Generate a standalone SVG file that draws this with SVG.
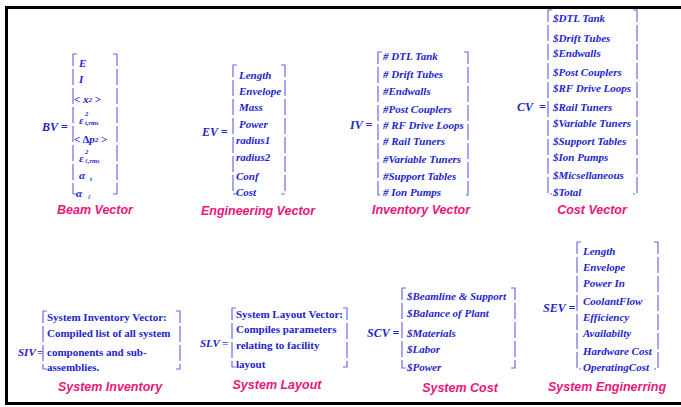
<svg xmlns="http://www.w3.org/2000/svg" width="681" height="407" viewBox="0 0 681 407">
<style>
.e{font-family:"Liberation Serif","Times New Roman",serif;font-weight:bold;font-style:italic;font-size:11px;fill:#2424cc;}
.u{font-family:"Liberation Serif","Times New Roman",serif;font-weight:bold;font-size:11px;fill:#2424cc;}
.n{font-family:"Liberation Serif","Times New Roman",serif;font-weight:bold;font-style:italic;font-size:12px;fill:#2424cc;}
.lb{font-family:"Liberation Sans",Arial,sans-serif;font-weight:bold;font-style:italic;font-size:12.5px;fill:#e8177d;text-anchor:middle;}
.br{fill:none;stroke:#6a6ae6;stroke-width:1.2;stroke-dasharray:16 3;}
.sm{font-family:"Liberation Serif","Times New Roman",serif;font-weight:bold;font-style:italic;font-size:6.5px;fill:#2424cc;}
</style>
<path d="M681,7.5 L6.5,7.5 L6.5,403.5 L681,403.5" fill="none" stroke="#000" stroke-width="3"/>

<g id="beam-vector">
<text x="42" y="131" class="n">BV =</text>
<path class="br" d="M77,54 L73,54 L73,194 L77,194"/>
<path class="br" d="M113,54 L117,54 L117,194 L113,194"/>
<text x="79" y="67" class="e">E</text>
<text x="79" y="83" class="e">I</text>
<text x="74" y="103" class="e"><tspan font-style="normal">&lt;</tspan> x<tspan font-size="7px" dy="-1">2</tspan><tspan dy="1" font-style="normal"> &gt;</tspan></text>
<text x="79" y="124" class="e">ε</text>
<text x="85" y="116" class="sm">2</text>
<text x="85" y="125" class="sm">t,rms</text>
<text x="74" y="143" class="e"><tspan font-style="normal">&lt; Δ</tspan>p<tspan font-size="7px" dy="-1">2</tspan><tspan dy="1" font-style="normal"> &gt;</tspan></text>
<text x="79" y="162" class="e">ε</text>
<text x="85" y="154" class="sm">2</text>
<text x="85" y="163" class="sm">ℓ,rms</text>
<text x="79" y="179" class="e">α</text>
<text x="90" y="181" class="sm">t</text>
<text x="76" y="197" class="e">α</text>
<text x="88" y="199" class="sm">ℓ</text>
<text x="95" y="214" class="lb">Beam Vector</text>
</g>

<g id="engineering-vector">
<text x="202" y="136" class="n">EV  =</text>
<path class="br" d="M237,65 L233,65 L233,194 L237,194"/>
<path class="br" d="M281,65 L285,65 L285,194 L281,194"/>
<text x="239" y="79" class="e">Length</text>
<text x="239" y="95" class="e">Envelope</text>
<text x="239" y="111" class="e">Mass</text>
<text x="239" y="128" class="e">Power</text>
<text x="236" y="144" class="e">radius1</text>
<text x="236" y="161" class="e">radius2</text>
<text x="236" y="180" class="e">Conf</text>
<text x="236" y="196" class="e">Cost</text>
<text x="258" y="215" class="lb">Engineering Vector</text>
</g>

<g id="inventory-vector">
<text x="350" y="129" class="n">IV =</text>
<path class="br" d="M382,52 L378,52 L378,195 L382,195"/>
<path class="br" d="M464,52 L468,52 L468,195 L464,195"/>
<text x="383" y="60" class="e"># DTL Tank</text>
<text x="383" y="78" class="e"># Drift Tubes</text>
<text x="383" y="95" class="e">#Endwalls</text>
<text x="383" y="113" class="e">#Post  Couplers</text>
<text x="383" y="129" class="e"># RF Drive  Loops</text>
<text x="383" y="145" class="e"># Rail Tuners</text>
<text x="383" y="163" class="e">#Variable  Tuners</text>
<text x="383" y="180" class="e">#Support Tables</text>
<text x="383" y="196" class="e"># Ion Pumps</text>
<text x="421" y="214" class="lb">Inventory Vector</text>
</g>

<g id="cost-vector">
<text x="517" y="111" class="n">CV</text>
<text x="539" y="111" class="n">=</text>
<path class="br" d="M552,10 L548,10 L548,194 L552,194"/>
<path class="br" d="M633,10 L637,10 L637,194 L633,194"/>
<text x="553" y="22" class="e">$DTL Tank</text>
<text x="553" y="42" class="e">$Drift Tubes</text>
<text x="553" y="57" class="e">$Endwalls</text>
<text x="553" y="76" class="e">$Post  Couplers</text>
<text x="553" y="92" class="e">$RF  Drive Loops</text>
<text x="553" y="111" class="e">$Rail Tuners</text>
<text x="553" y="127" class="e">$Variable Tuners</text>
<text x="553" y="145" class="e">$Support Tables</text>
<text x="553" y="161" class="e">$Ion Pumps</text>
<text x="553" y="179" class="e">$Micsellaneous</text>
<text x="553" y="196" class="e">$Total</text>
<text x="592" y="214" class="lb">Cost Vector</text>
</g>

<g id="system-inventory">
<text x="18" y="356" class="e">SIV</text>
<text x="37" y="356" class="u">=</text>
<path class="br" d="M47,311 L43,311 L43,369 L47,369"/>
<path class="br" d="M176,311 L180,311 L180,369 L176,369"/>
<text x="47" y="321" class="u">System Inventory Vector:</text>
<text x="47" y="337" class="u">Compiled list of all system</text>
<text x="47" y="356" class="u">components and sub-</text>
<text x="47" y="371" class="u">assemblies.</text>
<text x="110" y="391" class="lb">System Inventory</text>
</g>

<g id="system-layout">
<text x="200" y="347" class="e">SLV</text>
<text x="222" y="347" class="u">=</text>
<path class="br" d="M236,308 L232,308 L232,367 L236,367"/>
<path class="br" d="M343,308 L347,308 L347,367 L343,367"/>
<text x="236" y="318" class="u">System Layout Vector:</text>
<text x="236" y="333" class="u">Compiles parameters</text>
<text x="236" y="349" class="u">relating to facility</text>
<text x="236" y="368" class="u">layout</text>
<text x="277" y="389" class="lb">System Layout</text>
</g>

<g id="system-cost">
<text x="367" y="337" class="n">SCV  =</text>
<path class="br" d="M406,288 L402,288 L402,368 L406,368"/>
<path class="br" d="M511,288 L515,288 L515,368 L511,368"/>
<text x="407" y="300" class="e">$Beamline  &amp;  Support</text>
<text x="407" y="317" class="e">$Balance of  Plant</text>
<text x="407" y="337" class="e">$Materials</text>
<text x="407" y="353" class="e">$Labor</text>
<text x="407" y="371" class="e">$Power</text>
<text x="460" y="392" class="lb">System Cost</text>
</g>

<g id="system-engineering">
<text x="543" y="312" class="n">SEV =</text>
<path class="br" d="M581,242 L577,242 L577,369 L581,369"/>
<path class="br" d="M654,242 L658,242 L658,369 L654,369"/>
<text x="583" y="255" class="e">Length</text>
<text x="583" y="271" class="e">Envelope</text>
<text x="583" y="287" class="e">Power  In</text>
<text x="583" y="305" class="e">CoolantFlow</text>
<text x="583" y="321" class="e">Efficiency</text>
<text x="583" y="337" class="e">Availabilty</text>
<text x="583" y="355" class="e">Hardware  Cost</text>
<text x="583" y="371" class="e">OperatingCost</text>
<text x="607" y="391" class="lb">System Enginerring</text>
</g>
</svg>
